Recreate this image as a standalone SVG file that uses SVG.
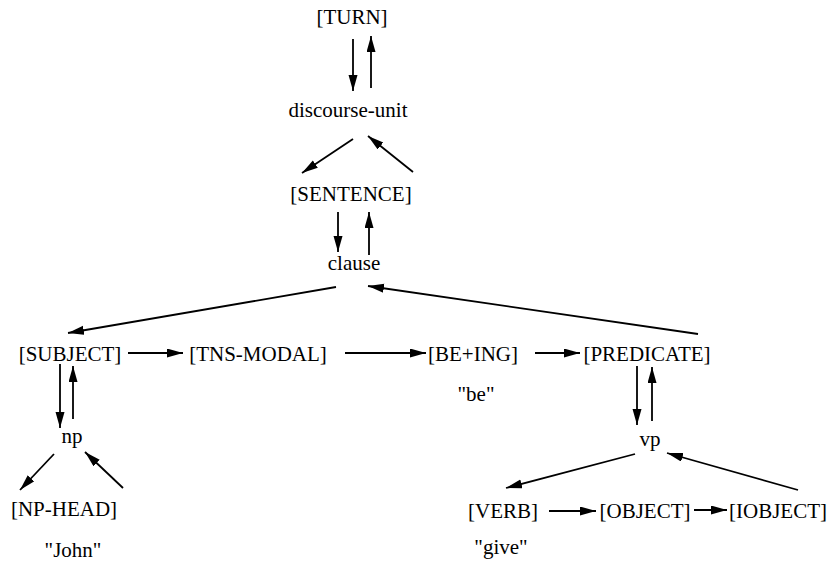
<svg xmlns="http://www.w3.org/2000/svg" width="830" height="563" viewBox="0 0 830 563">
<defs>
<marker id="ah" markerUnits="userSpaceOnUse" markerWidth="17" markerHeight="10" refX="16" refY="4.5" orient="auto">
<path d="M0,0 L16,4.5 L0,9 z" fill="#000"/>
</marker>
<style>
text{font-family:"Liberation Serif","Times New Roman",serif;font-size:21px;fill:#000;text-anchor:middle}
.c line{stroke:#000;stroke-width:1.8;marker-end:url(#ah)}
</style>
</defs>
<rect width="830" height="563" fill="#fff"/>
<g class="c" id="connectors">
<line x1="353" y1="39" x2="353" y2="91"/>
<line x1="371" y1="88" x2="371" y2="36"/>
<line x1="353" y1="139" x2="302" y2="173"/>
<line x1="413" y1="172" x2="368" y2="136"/>
<line x1="338" y1="212" x2="338" y2="252"/>
<line x1="369" y1="255" x2="369" y2="212"/>
<line x1="336" y1="287" x2="68" y2="333"/>
<line x1="698" y1="334" x2="368" y2="286"/>
<line x1="128" y1="353" x2="183" y2="353"/>
<line x1="345" y1="353" x2="426" y2="353"/>
<line x1="535" y1="353" x2="580" y2="353"/>
<line x1="60" y1="364" x2="60" y2="428"/>
<line x1="73" y1="419" x2="73" y2="366"/>
<line x1="54" y1="454" x2="20" y2="490"/>
<line x1="123" y1="488" x2="85" y2="452"/>
<line x1="637" y1="366" x2="637" y2="425"/>
<line x1="652" y1="421" x2="652" y2="367"/>
<line x1="635" y1="454" x2="506" y2="488"/>
<line x1="798" y1="490" x2="667" y2="453"/>
<line x1="549" y1="511" x2="596" y2="511"/>
<line x1="694" y1="510" x2="727" y2="510"/>
</g>
<g id="turn"><text x="352" y="24">[TURN]</text></g>
<g id="discourse-unit"><text x="348" y="117">discourse-unit</text></g>
<g id="sentence"><text x="351" y="201">[SENTENCE]</text></g>
<g id="clause"><text x="354" y="270">clause</text></g>
<g id="subject"><text x="70" y="361">[SUBJECT]</text></g>
<g id="tns-modal"><text x="258" y="361">[TNS-MODAL]</text></g>
<g id="be-ing"><text x="473" y="361">[BE+ING]</text><text x="476" y="401">"be"</text></g>
<g id="predicate"><text x="647" y="361">[PREDICATE]</text></g>
<g id="np"><text x="72" y="443">np</text></g>
<g id="vp"><text x="650" y="446">vp</text></g>
<g id="np-head"><text x="64" y="516">[NP-HEAD]</text><text x="73" y="557">"John"</text></g>
<g id="verb"><text x="503" y="518">[VERB]</text><text x="501" y="554">"give"</text></g>
<g id="object"><text x="645" y="518">[OBJECT]</text></g>
<g id="iobject"><text x="778" y="518">[IOBJECT]</text></g>
</svg>
